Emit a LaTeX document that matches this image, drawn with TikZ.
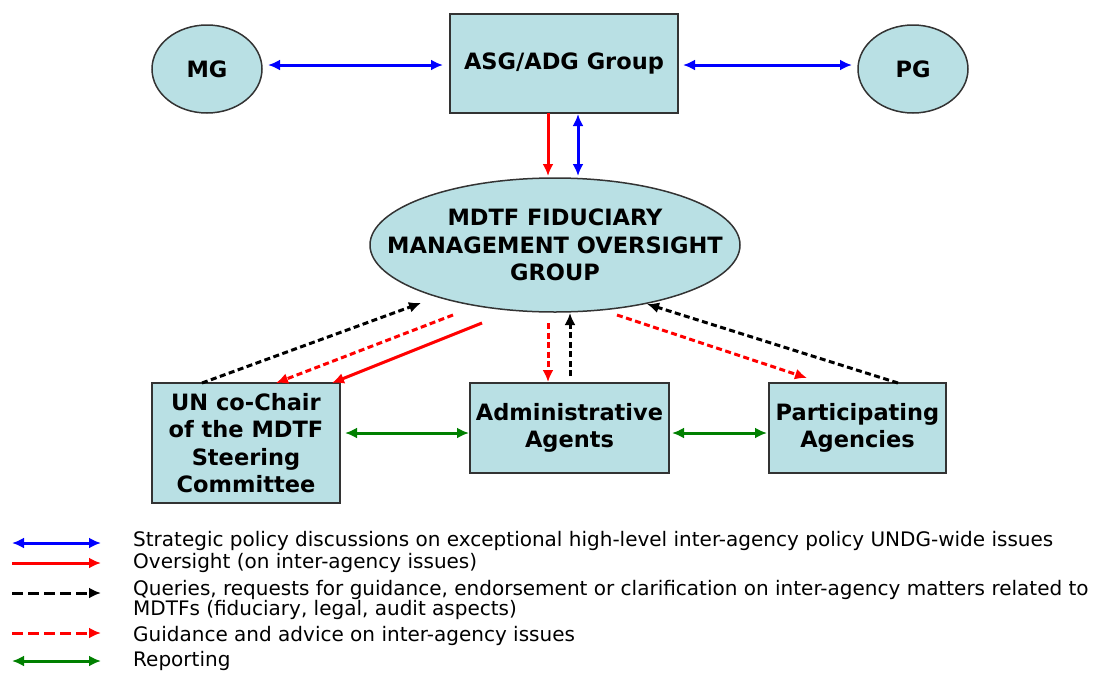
\documentclass[tikz,border=0pt]{standalone}
\usepackage{fontspec}
\setmainfont{DejaVu Sans}
\usetikzlibrary{shapes.geometric,arrows.meta}
\definecolor{fillc}{RGB}{185,224,228}
\definecolor{myblue}{RGB}{0,0,255}
\definecolor{myred}{RGB}{255,0,0}
\definecolor{mygreen}{RGB}{0,128,0}
\begin{document}
\begin{tikzpicture}[x=1pt,y=-1pt,
  lbl/.style={font=\bfseries\fontsize{22.5}{27.5}\selectfont,align=center,inner sep=0pt},
  box/.style={draw=black!80,line width=1.5pt,fill=fillc,lbl},
  oval/.style={ellipse,draw=black!80,line width=1.5pt,fill=fillc,lbl},
  tip/.style={-{Latex[length=12pt,width=11pt]}},
  dtip/.style={{Latex[length=12pt,width=11pt]}-{Latex[length=12pt,width=11pt]}},
  conn/.style={line width=3pt},
  dsh/.style={line width=3pt,dash pattern=on 6pt off 3.5pt},
  ldsh/.style={line width=3pt,dash pattern=on 11pt off 5pt},
  leg/.style={anchor=west,font=\fontsize{20}{22}\selectfont,inner sep=0pt}
]
\useasboundingbox (0,0) rectangle (1096,673);
% nodes
\node[oval,minimum width=110pt,minimum height=88pt] (mg) at (207,69) {MG};
\node[box,minimum width=228pt,minimum height=99pt] (asg) at (564,63.5) {ASG/ADG Group};
\node[oval,minimum width=110pt,minimum height=88pt] (pg) at (913,69) {PG};
\node[oval,minimum width=370pt,minimum height=134pt] (fmog) at (555,245) {};
\node[lbl] (fmogt) at (fmog.center) {MDTF FIDUCIARY\\MANAGEMENT OVERSIGHT\\GROUP};
\node[box,minimum width=188pt,minimum height=120pt] (un) at (246,443) {UN co-Chair\\of the MDTF\\Steering\\Committee};
\node[box,minimum width=199pt,minimum height=90pt] (aa) at (569.5,428) {Administrative\\Agents};
\node[box,minimum width=177pt,minimum height=90pt] (pa) at (857.5,428) {Participating\\Agencies};
% top connectors
\coordinate (m1) at (268,65); \coordinate (m2) at (443,65);
\coordinate (p1) at (683,65); \coordinate (p2) at (852,65);
\draw[conn,myblue,dtip] (m1) -- (m2);
\draw[conn,myblue,dtip] (p1) -- (p2);
\coordinate (r1) at (548,113);
\coordinate (r2) at (548,176);
\coordinate (b1) at (578,114);
\coordinate (b2) at (578,176);
\draw[conn,myred,tip] (r1) -- (r2);
\draw[conn,myblue,dtip] (b1) -- (b2);
% lower connectors
\coordinate (k1s) at (202,383); \coordinate (k1e) at (421,303);
\draw[dsh,black,tip] (k1s) -- (k1e);
\coordinate (d1s) at (453,315); \coordinate (d1e) at (276,383);
\draw[dsh,myred,tip] (d1s) -- (d1e);
\coordinate (s1s) at (482,323); \coordinate (s1e) at (332,383);
\draw[conn,myred,tip] (s1s) -- (s1e);
\coordinate (d2s) at (548,323); \coordinate (d2e) at (548,382);
\draw[dsh,myred,tip] (d2s) -- (d2e);
\coordinate (k2s) at (570,376); \coordinate (k2e) at (570,313);
\draw[dsh,black,tip] (k2s) -- (k2e);
\coordinate (d3s) at (617,315); \coordinate (d3e) at (807,378);
\draw[dsh,myred,tip] (d3s) -- (d3e);
\coordinate (k3s) at (898,383); \coordinate (k3e) at (647,304);
\draw[dsh,black,tip] (k3s) -- (k3e);
\coordinate (g1) at (345,433); \coordinate (g2) at (469,433);
\coordinate (g3) at (672,433); \coordinate (g4) at (767,433);
\draw[conn,mygreen,dtip] (g1) -- (g2);
\draw[conn,mygreen,dtip] (g3) -- (g4);
% legend
\coordinate (l1a) at (12,543); \coordinate (l1b) at (101,543);
\coordinate (l2a) at (12,563); \coordinate (l2b) at (101,563);
\coordinate (l3a) at (12,593); \coordinate (l3b) at (101,593);
\coordinate (l4a) at (12,633); \coordinate (l4b) at (101,633);
\coordinate (l5a) at (12,661); \coordinate (l5b) at (101,661);
\draw[conn,myblue,dtip] (l1a) -- (l1b);
\draw[conn,myred,tip] (l2a) -- (l2b);
\draw[ldsh,black,tip] (l3a) -- (l3b);
\draw[ldsh,myred,tip] (l4a) -- (l4b);
\draw[conn,mygreen,dtip] (l5a) -- (l5b);
\node[leg] (t1) at (133,541) {Strategic policy discussions on exceptional high-level inter-agency policy UNDG-wide issues};
\node[leg] (t2) at (133,563) {Oversight (on inter-agency issues)};
\node[leg] (t3) at (133,590) {Queries, requests for guidance, endorsement or clarification on inter-agency matters related to};
\node[leg] (t3b) at (133,610) {MDTFs (fiduciary, legal, audit aspects)};
\node[leg] (t4) at (133,636) {Guidance and advice on inter-agency issues};
\node[leg] (t5) at (133,661) {Reporting};
\end{tikzpicture}
\end{document}
